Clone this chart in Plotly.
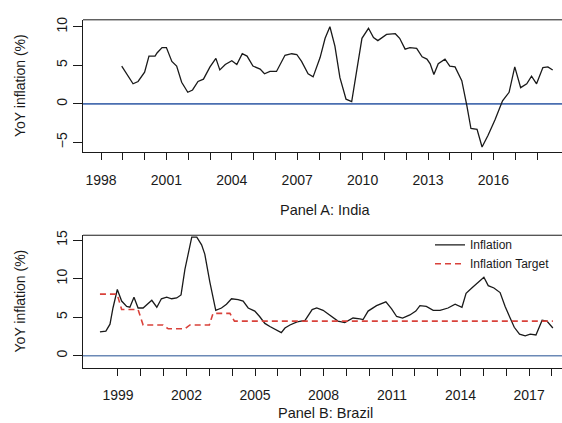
import plotly.graph_objects as go

# India: year-on-year CPI inflation (%)
india_year = [1998.95, 1999.47, 1999.7, 2000.0, 2000.2, 2000.48, 2000.57, 2000.8, 2001.0,
              2001.25, 2001.47, 2001.7, 2001.98, 2002.2, 2002.45, 2002.7, 2003.0, 2003.27,
              2003.45, 2003.7, 2004.0, 2004.23, 2004.48, 2004.7, 2004.97, 2005.3, 2005.5,
              2005.75, 2006.05, 2006.44, 2006.75, 2006.98, 2007.2, 2007.5, 2007.73, 2008.05,
              2008.28, 2008.5, 2008.73, 2008.96, 2009.24, 2009.5, 2009.73, 2009.97, 2010.27,
              2010.5, 2010.7, 2011.1, 2011.5, 2011.7, 2011.95, 2012.17, 2012.48, 2012.73,
              2012.95, 2013.1, 2013.27, 2013.47, 2013.78, 2014.0, 2014.24, 2014.55, 2014.78,
              2014.97, 2015.25, 2015.48, 2015.75, 2016.07, 2016.42, 2016.72, 2016.98, 2017.25,
              2017.53, 2017.75, 2017.98, 2018.27, 2018.5, 2018.72]
india_infl = [4.9, 2.6, 2.9, 4.1, 6.2, 6.2, 6.6, 7.3, 7.3,
              5.5, 4.9, 2.8, 1.5, 1.8, 2.9, 3.2, 4.8, 5.9,
              4.4, 5.1, 5.6, 5.1, 6.5, 6.2, 4.9, 4.5, 3.9,
              4.2, 4.2, 6.3, 6.5, 6.4, 5.5, 3.9, 3.5, 6.0,
              8.5, 10.0, 7.5, 3.4, 0.6, 0.3, 4.3, 8.5, 9.8,
              8.6, 8.2, 9.0, 9.1, 8.5, 7.1, 7.3, 7.2, 6.1,
              5.8, 5.2, 3.8, 5.2, 5.8, 4.9, 4.8, 3.0, -0.2,
              -3.2, -3.3, -5.6, -4.1, -2.1, 0.4, 1.5, 4.8, 2.1,
              2.6, 3.6, 2.6, 4.7, 4.8, 4.4]

# Brazil: year-on-year IPCA inflation (%)
brazil_year = [1998.21, 1998.47, 1998.65, 1998.78, 1998.97, 1999.16, 1999.38, 1999.52, 1999.7,
               1999.88, 2000.1, 2000.27, 2000.48, 2000.7, 2000.9, 2001.13, 2001.35, 2001.57,
               2001.76, 2001.93, 2002.08, 2002.23, 2002.45, 2002.66, 2002.8, 2003.02, 2003.28,
               2003.53, 2003.75, 2003.97, 2004.26, 2004.48, 2004.7, 2004.99, 2005.2, 2005.43,
               2005.65, 2005.95, 2006.15, 2006.31, 2006.53, 2006.84, 2007.19, 2007.5, 2007.7,
               2007.98, 2008.28, 2008.63, 2008.93, 2009.15, 2009.29, 2009.59, 2009.73, 2009.95,
               2010.32, 2010.73, 2010.98, 2011.2, 2011.46, 2011.78, 2012.04, 2012.22, 2012.5,
               2012.8, 2013.1, 2013.45, 2013.76, 2014.06, 2014.24, 2014.49, 2014.73, 2015.02,
               2015.21, 2015.46, 2015.73, 2015.95, 2016.17, 2016.35, 2016.58, 2016.83, 2017.05,
               2017.3, 2017.57, 2017.78, 2018.04]
brazil_infl = [3.1, 3.2, 4.1, 6.2, 8.6, 7.1, 6.4, 6.3, 7.6,
               6.2, 6.2, 6.7, 7.2, 6.3, 7.4, 7.6, 7.4, 7.5,
               7.9, 11.2, 13.5, 15.4, 15.4, 14.4, 13.2, 9.6, 5.9,
               6.2, 6.7, 7.4, 7.3, 7.1, 6.2, 5.8, 5.1, 4.2,
               3.8, 3.3, 3.0, 3.6, 4.0, 4.4, 4.6, 6.0, 6.2,
               5.9, 5.3, 4.5, 4.3, 4.7, 4.9, 4.8, 4.7, 5.8,
               6.5, 7.0, 6.1, 5.1, 4.9, 5.3, 5.8, 6.5, 6.4,
               5.9, 5.9, 6.2, 6.7, 6.3, 8.1, 8.8, 9.4, 10.2,
               9.1, 8.8, 8.2, 6.4, 4.9, 3.7, 2.8, 2.6, 2.8,
               2.7, 4.6, 4.5, 3.6]

# Brazil: central bank inflation target (%)
target_year = [1998.21, 1998.96, 1999.16, 1999.88, 2000.1, 2000.97, 2001.2, 2001.93, 2002.15,
               2003.0, 2003.16, 2003.9, 2004.1, 2018.04]
target_val = [8.0, 8.0, 6.0, 6.0, 4.0, 4.0, 3.5, 3.5, 4.0,
              4.0, 5.5, 5.5, 4.5, 4.5]

# Axis ticks
india_ticks = list(range(1998, 2019))
india_ticklabels = [str(y) if (y - 1998) % 3 == 0 else "" for y in india_ticks]
brazil_ticks = list(range(1999, 2019))
brazil_ticklabels = [str(y) if (y - 1999) % 3 == 0 else "" for y in brazil_ticks]
india_yticks = [-5, 0, 5, 10]
brazil_yticks = [0, 5, 10, 15]

FONT = "Liberation Sans, Arial, sans-serif"
INK = "#1a1a1a"

fig = go.Figure()

# Panel A
fig.add_trace(go.Scatter(x=[1997.0, 2019.5], y=[0, 0], mode="lines",
                         line=dict(color="#4a6eb0", width=1.6),
                         xaxis="x", yaxis="y", showlegend=False, hoverinfo="skip"))
fig.add_trace(go.Scatter(x=india_year, y=india_infl, mode="lines",
                         line=dict(color=INK, width=1.3),
                         xaxis="x", yaxis="y", showlegend=False))

# Panel B
fig.add_trace(go.Scatter(x=[1997.0, 2019.5], y=[0, 0], mode="lines",
                         line=dict(color="#6b89b6", width=1.6),
                         xaxis="x2", yaxis="y2", showlegend=False, hoverinfo="skip"))
fig.add_trace(go.Scatter(x=brazil_year, y=brazil_infl, mode="lines", name="Inflation",
                         line=dict(color=INK, width=1.3),
                         xaxis="x2", yaxis="y2"))
fig.add_trace(go.Scatter(x=target_year, y=target_val, mode="lines", name="Inflation Target",
                         line=dict(color="#d9413a", width=1.6, dash="6px,4px"),
                         xaxis="x2", yaxis="y2"))

W, H = 562, 423
left = 83 / W


def ydom(top_px, bot_px):
    return [1 - bot_px / H, 1 - top_px / H]


xaxis_common = dict(showgrid=False, zeroline=False, showline=True, linecolor=INK, linewidth=1,
                    ticks="outside", ticklen=7, tickwidth=1, tickcolor=INK,
                    tickfont=dict(family=FONT, size=14, color=INK), ticklabelstandoff=8,
                    domain=[left, 1.0])
yaxis_common = dict(showgrid=False, zeroline=False, showline=True, linecolor=INK, linewidth=1,
                    ticks="outside", ticklen=9, tickwidth=1, tickcolor=INK, tickangle=-90,
                    tickfont=dict(family=FONT, size=14, color=INK))

fig.update_layout(
    width=W, height=H,
    margin=dict(l=0, r=0, t=0, b=0),
    paper_bgcolor="white", plot_bgcolor="white",
    font=dict(family=FONT, color=INK),
    xaxis=dict(**xaxis_common, range=[1997.174, 2019.147], tickvals=india_ticks,
               ticktext=india_ticklabels, anchor="y"),
    yaxis=dict(**yaxis_common, range=[-6.28, 10.9], tickvals=india_yticks,
               domain=ydom(15, 149), anchor="x"),
    xaxis2=dict(**xaxis_common, range=[1997.468, 2018.44], tickvals=brazil_ticks,
                ticktext=brazil_ticklabels, anchor="y2"),
    yaxis2=dict(**yaxis_common, range=[-1.54, 15.64], tickvals=brazil_yticks,
                domain=ydom(233, 367), anchor="x2"),
    legend=dict(x=430 / W, y=1 - 228 / H, xanchor="left", yanchor="top",
                bgcolor="rgba(0,0,0,0)", borderwidth=0,
                font=dict(family=FONT, size=12, color=INK), tracegroupgap=0),
    showlegend=True,
)

# Top edge of each plotting box
for yref in ("y domain", "y2 domain"):
    xref = "x domain" if yref == "y domain" else "x2 domain"
    fig.add_shape(type="line", xref=xref, yref=yref, x0=0, x1=1, y0=1, y1=1,
                  line=dict(color=INK, width=1))

# Axis and panel titles
for cy in (82, 300):
    fig.add_annotation(text="YoY inflation (%)", x=20 / W, y=1 - cy / H, xref="paper", yref="paper",
                       xanchor="center", yanchor="middle", textangle=-90, showarrow=False,
                       font=dict(family=FONT, size=14, color=INK))
fig.add_annotation(text="Panel A: India", x=325 / W, y=1 - 207 / H, xref="paper", yref="paper",
                   xanchor="center", yanchor="middle", showarrow=False,
                   font=dict(family=FONT, size=14.5, color=INK))
fig.add_annotation(text="Panel B: Brazil", x=325 / W, y=1 - 413 / H, xref="paper", yref="paper",
                   xanchor="center", yanchor="middle", showarrow=False,
                   font=dict(family=FONT, size=14.5, color=INK))

fig.write_html("out.html")
